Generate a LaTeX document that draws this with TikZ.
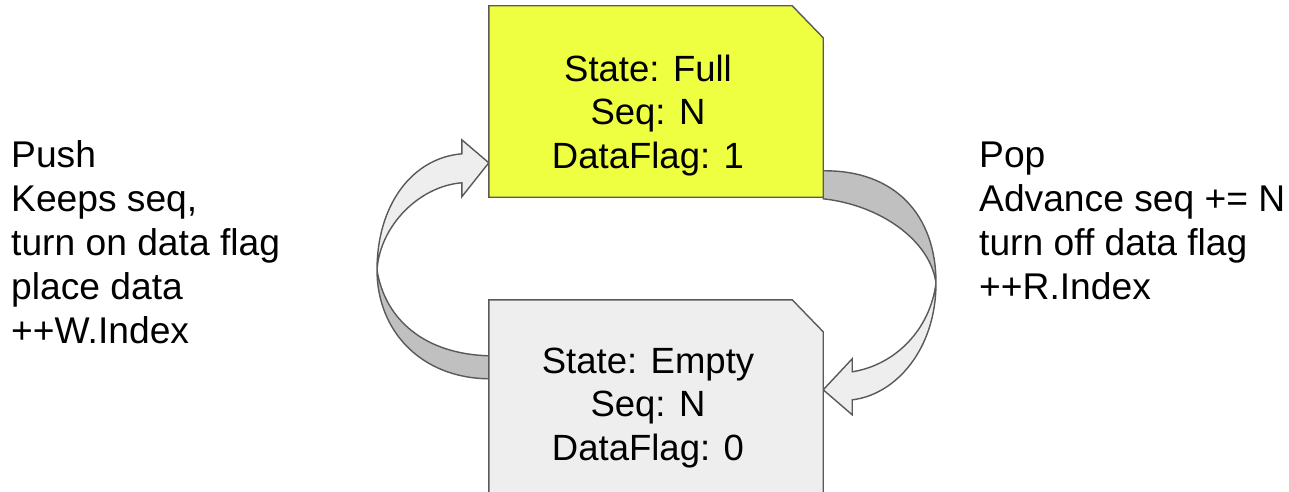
\documentclass[tikz,border=0pt]{standalone}
\usepackage{fontspec}
\setmainfont{Liberation Sans}
\usetikzlibrary{calc}
\definecolor{fullyellow}{RGB}{238,255,65}
\definecolor{emptygray}{RGB}{238,238,238}
\definecolor{arrowlight}{RGB}{238,238,238}
\definecolor{arrowdark}{RGB}{192,192,192}
\definecolor{edgegray}{RGB}{89,89,89}
\begin{document}
\begin{tikzpicture}[x=1pt,y=-1pt,
  boxframe/.style={draw=none, minimum width=334pt, minimum height=191pt, inner sep=0pt},
  boxedge/.style={draw=edgegray, line width=1.4pt, line join=miter},
  ribbon/.style={draw=edgegray, line width=1.4pt, line join=miter},
  boxtext/.style={font=\fontsize{36.5}{43.5}\selectfont, inner sep=0pt, align=center, anchor=base},
  sidetext/.style={font=\fontsize{37.2}{44}\selectfont, inner sep=0pt, align=left, anchor=base west},
]
\useasboundingbox (0,0) rectangle (1289,492);
\clip (0,0) rectangle (1289,492);

% box frames (positions)
\node[boxframe] (full) at (656,101.5) {};
\node[boxframe, minimum height=200pt] (empty) at (656,400) {};

% Push arrow (left)
\coordinate (pushX) at (377,270);
\coordinate (pushTail1) at ($(empty.north west)+(0,56)$);
\coordinate (pushTail2) at ($(empty.north west)+(0,79)$);
\coordinate (pushTip) at ($(full.north west)+(0,157)$);
\draw[ribbon, fill=arrowdark] (pushX) .. controls (377,330) and (420,378) .. (pushTail2)
  -- (pushTail1) .. controls (425,354) and (385,320) .. (pushX) -- cycle;
\draw[ribbon, fill=arrowlight] (pushX) .. controls (377,205) and (412,158) .. ($(pushTip)+(-27,-9)$)
  -- ($(pushTip)+(-27,-23)$) -- (pushTip) -- ($(pushTip)+(-27,34)$) -- ($(pushTip)+(-27,20)$)
  .. controls (420,186) and (380,225) .. (pushX) -- cycle;

% Pop arrow (right)
\coordinate (popX) at (936,283);
\coordinate (popTail1) at ($(full.north east)+(0,165)$);
\coordinate (popTail2) at ($(full.north east)+(0,193)$);
\coordinate (popTip) at ($(empty.north east)+(0,90)$);
\draw[ribbon, fill=arrowdark] (popTail1) .. controls (895,170) and (936,215) .. (popX)
  .. controls (930,240) and (880,205) .. (popTail2) -- cycle;
\draw[ribbon, fill=arrowlight] (popX) .. controls (936,350) and (895,395) .. ($(popTip)+(29,10)$)
  -- ($(popTip)+(29,25)$) -- (popTip) -- ($(popTip)+(29,-31)$) -- ($(popTip)+(29,-18)$)
  .. controls (895,365) and (930,330) .. (popX) -- cycle;

% boxes
\draw[boxedge, fill=fullyellow] (full.south west) -- (full.north west) -- ([xshift=-31pt]full.north east)
  -- ([yshift=-32pt]full.north east) -- (full.south east) -- cycle;
\draw[boxedge, fill=emptygray] (empty.south west) -- (empty.north west) -- ([xshift=-31pt]empty.north east)
  -- ([yshift=-32pt]empty.north east) -- (empty.south east) -- cycle;

% texts (anchor = baseline of last line)
\node[boxtext] (fulltxt) at (648,168) {State: Full\\Seq: N\\DataFlag: 1};
\node[boxtext] (emptytxt) at (648,460) {State: Empty\\Seq: N\\DataFlag: 0};
\node[sidetext] (pushtxt) at (11,343) {Push\\Keeps seq,\\turn on data flag\\place data\\++W.Index};
\node[sidetext] (poptxt) at (979,299) {Pop\\Advance seq += N\\turn off data flag\\++R.Index};
\end{tikzpicture}
\end{document}
